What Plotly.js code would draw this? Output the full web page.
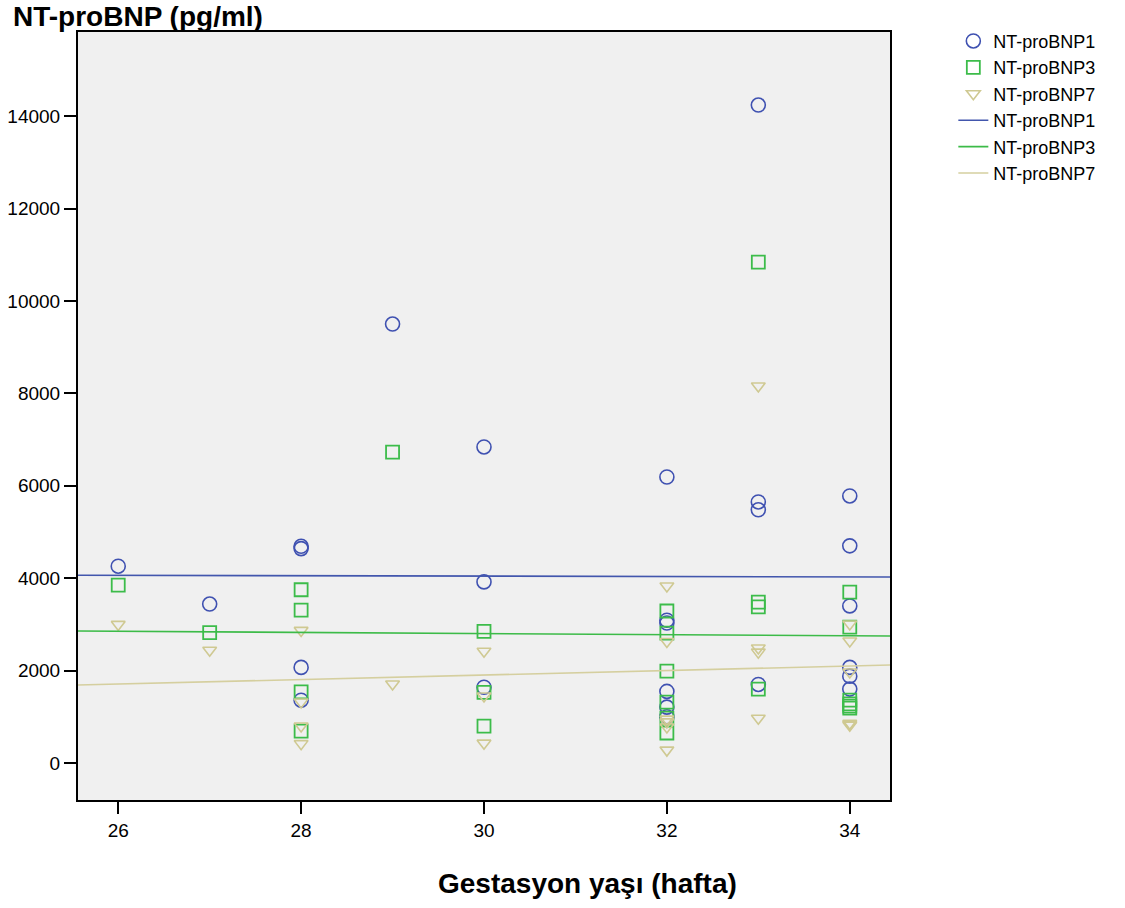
<!DOCTYPE html>
<html>
<head>
<meta charset="utf-8">
<script src="https://cdn.plot.ly/plotly-3.0.1.min.js"></script>
<style>html,body{margin:0;padding:0;background:#fff}</style>
</head>
<body>
<div id="chart" style="width:1125px;height:908px"></div>
<script>
// NT-proBNP1 (circles)
const weeks1 = [26, 27, 28, 28, 28, 28, 29, 30, 30, 30, 32, 32, 32, 32, 32, 32, 33, 33, 33, 33, 34, 34, 34, 34, 34, 34];
const bnp1   = [4260, 3440, 4690, 4640, 2070, 1360, 9500, 6840, 3920, 1640, 6190, 3090, 3030, 1550, 1210, 1000, 14240, 5650, 5480, 1700, 5780, 4700, 3400, 2070, 1880, 1600];
// NT-proBNP3 (squares)
const weeks3 = [26, 27, 28, 28, 28, 28, 29, 30, 30, 30, 32, 32, 32, 32, 32, 32, 33, 33, 33, 33, 34, 34, 34, 34, 34, 34];
const bnp3   = [3850, 2820, 3750, 3310, 1540, 690, 6730, 2850, 1530, 800, 3290, 2810, 1990, 1320, 970, 650, 10840, 3480, 3380, 1600, 3700, 2940, 1360, 1280, 1190, 1230];
// NT-proBNP7 (triangles)
const weeks7 = [26, 27, 28, 28, 28, 28, 29, 30, 30, 30, 32, 32, 32, 32, 32, 32, 33, 33, 33, 33, 34, 34, 34, 34, 34, 34];
const bnp7   = [3000, 2440, 2870, 1320, 800, 420, 1710, 2420, 1450, 430, 3830, 2630, 950, 890, 780, 280, 8160, 2490, 2400, 970, 3010, 2640, 1970, 860, 820, 840];
// Fit lines (end values)
const fitX  = [25.56, 34.44];
const fit1  = [4065, 4025];
const fit3  = [2857, 2748];
const fit7  = [1688, 2120];
const xTicks = [26, 28, 30, 32, 34];
const yTicks = [0, 2000, 4000, 6000, 8000, 10000, 12000, 14000];

const cBlue = '#3f51b1', cGreen = '#3cbc4a', cTan = '#cfc992';
const FONT = 'Arial, "Liberation Sans", sans-serif';

const traces = [
  {x: weeks1, y: bnp1, mode: 'markers', type: 'scatter', name: 'NT-proBNP1',
   marker: {symbol: 'circle-open', size: 14, color: cBlue, line: {width: 1.6, color: cBlue}}},
  {x: weeks3, y: bnp3, mode: 'markers', type: 'scatter', name: 'NT-proBNP3',
   marker: {symbol: 'square-open', size: 13, color: cGreen, line: {width: 1.8, color: cGreen}}},
  {x: weeks7, y: bnp7, mode: 'markers', type: 'scatter', name: 'NT-proBNP7',
   marker: {symbol: 'triangle-down-open', size: 12, color: cTan, line: {width: 1.6, color: cTan}}},
  {x: fitX, y: fit1, mode: 'lines', type: 'scatter', name: 'NT-proBNP1', line: {color: '#4256ad', width: 1.6}},
  {x: fitX, y: fit3, mode: 'lines', type: 'scatter', name: 'NT-proBNP3', line: {color: '#3cbb48', width: 1.6}},
  {x: fitX, y: fit7, mode: 'lines', type: 'scatter', name: 'NT-proBNP7', line: {color: '#d5cf9f', width: 1.6}}
];

const layout = {
  width: 1125, height: 908,
  margin: {l: 78, r: 235, t: 32, b: 108},
  paper_bgcolor: '#ffffff',
  plot_bgcolor: '#f0f0f0',
  font: {family: FONT, size: 19, color: '#000'},
  showlegend: true,
  legend: {x: 1.078, y: 1.012, xanchor: 'left', yanchor: 'top', bgcolor: 'rgba(0,0,0,0)',
           font: {family: FONT, size: 18, color: '#000'}, tracegroupgap: 0, itemwidth: 30},
  xaxis: {
    range: [25.56, 34.44], tickvals: xTicks, ticktext: xTicks.map(String),
    showgrid: false, zeroline: false, showline: true, linecolor: '#000', linewidth: 2, mirror: true,
    ticks: 'outside', ticklen: 12, tickwidth: 2, tickcolor: '#000',
    tickfont: {family: FONT, size: 19}
  },
  yaxis: {
    range: [-800, 15820], tickvals: yTicks, ticktext: yTicks.map(String),
    showgrid: false, zeroline: false, showline: true, linecolor: '#000', linewidth: 2, mirror: true,
    ticks: 'outside', ticklen: 12, tickwidth: 2, tickcolor: '#000',
    tickfont: {family: FONT, size: 19}
  },
  annotations: [
    {text: '<b>NT-proBNP (pg/ml)</b>', xref: 'paper', yref: 'paper',
     x: -0.082, y: 1.0208, xanchor: 'left', yanchor: 'middle', showarrow: false,
     font: {family: FONT, size: 28, color: '#000'}},
    {text: '<b>Gestasyon yaşı (hafta)</b>', xref: 'paper', yref: 'paper',
     x: 0.628, y: -0.109, xanchor: 'center', yanchor: 'middle', showarrow: false,
     font: {family: FONT, size: 28, color: '#000'}}
  ]
};

Plotly.newPlot('chart', traces, layout, {displayModeBar: false, staticPlot: true});
</script>
</body>
</html>
